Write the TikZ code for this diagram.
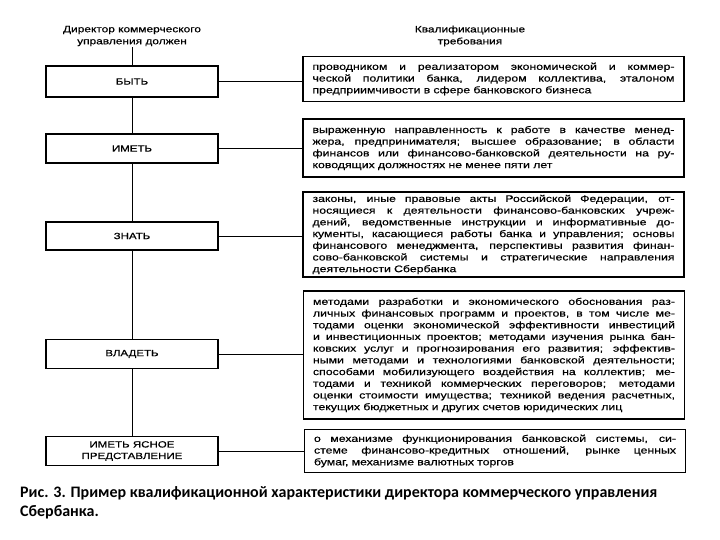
\documentclass[tikz,border=0pt]{standalone}
\usepackage{fontspec}
\setmainfont{Liberation Sans}
\newfontfamily\scanfont[FakeStretch=1.28,FakeBold=0.5]{Liberation Sans}
\newfontfamily\capfont{Carlito}
\newlength\rw
\setlength\rw{362pt}
\newcommand\jl[1]{{\spaceskip=0pt\xspaceskip=0pt\makebox[\rw][s]{#1}}\\}
\begin{document}
\begin{tikzpicture}[x=1pt,y=-1pt,
  lbox/.style={draw,line width=1.1pt,minimum width=172pt,inner sep=1pt,align=center,
    font=\scanfont\fontsize{9}{11.5}\selectfont},
  rbox/.style={draw,line width=1.5pt,minimum width=381pt,text width=\rw,inner xsep=9.5pt,inner ysep=2pt,align=left,
    font=\scanfont\fontsize{9.6}{11.7}\selectfont},
  hdr/.style={align=center,inner sep=1pt,font=\scanfont\fontsize{9.3}{12}\selectfont},
  conn/.style={line width=0.9pt}]
\useasboundingbox (0,0) rectangle (720,540);
\fill[white] (0,0) rectangle (720,540);
% headers
\node[hdr] (h1) at (132,36) {Директор коммерческого\\управления должен};
\node[hdr] (h2) at (470,36) {Квалификационные\\требования};
% left boxes
\node[lbox,minimum height=31pt] (b1) at (132,81.5) {БЫТЬ};
\node[lbox,minimum height=29pt] (b2) at (132,148.5) {ИМЕТЬ};
\node[lbox,minimum height=28pt] (b3) at (132,236) {ЗНАТЬ};
\node[lbox,minimum height=29pt] (b4) at (132,354) {ВЛАДЕТЬ};
\node[lbox,minimum height=29pt] (b5) at (132,451) {ИМЕТЬ ЯСНОЕ\\ПРЕДСТАВЛЕНИЕ};
% right boxes
\node[rbox,minimum height=45pt] (r1) at (493.5,79) {%
\jl{проводником и реализатором экономической и коммер-}
\jl{ческой политики банка, лидером коллектива, эталоном}
предприимчивости в сфере банковского бизнеса};
\node[rbox,minimum height=58pt] (r2) at (493.5,148) {%
\jl{выраженную направленность к работе в качестве менед-}
\jl{жера, предпринимателя; высшее образование; в области}
\jl{финансов или финансово-банковской деятельности на ру-}
ководящих должностях не менее пяти лет};
\node[rbox,minimum height=85pt] (r3) at (493.5,234.5) {%
\jl{законы, иные правовые акты Российской Федерации, от-}
\jl{носящиеся к деятельности финансово-банковских учреж-}
\jl{дений, ведомственные инструкции и информативные до-}
\jl{кументы, касающиеся работы банка и управления; основы}
\jl{финансового менеджмента, перспективы развития финан-}
\jl{сово-банковской системы и стратегические направления}
деятельности Сбербанка};
\node[rbox,minimum height=128pt] (r4) at (494,355) {%
\jl{методами разработки и экономического обоснования раз-}
\jl{личных финансовых программ и проектов, в том числе ме-}
\jl{тодами оценки экономической эффективности инвестиций}
\jl{и инвестиционных проектов; методами изучения рынка бан-}
\jl{ковских услуг и прогнозирования его развития; эффектив-}
\jl{ными методами и технологиями банковской деятельности;}
\jl{способами мобилизующего воздействия на коллектив; ме-}
\jl{тодами и техникой коммерческих переговоров; методами}
\jl{оценки стоимости имущества; техникой ведения расчетных,}
текущих бюджетных и других счетов юридических лиц};
\node[rbox,minimum height=43pt] (r5) at (495,451) {%
\jl{о механизме функционирования банковской системы, си-}
\jl{стеме финансово-кредитных отношений, рынке ценных}
бумаг, механизме валютных торгов};
% vertical chain
\draw[conn] (h1.south) -- (b1.north);
\draw[conn] (b1) -- (b2);
\draw[conn] (b2) -- (b3);
\draw[conn] (b3) -- (b4);
\draw[conn] (b4) -- (b5);
% horizontal connectors
\draw[conn] (b1.east) -- (b1.east -| r1.west);
\draw[conn] (b2.east) -- (b2.east -| r2.west);
\draw[conn] (b3.east) -- (b3.east -| r3.west);
\draw[conn] (b4.east) -- (b4.east -| r4.west);
\draw[conn] (b5.east) -- (b5.east -| r5.west);
% caption
\node[anchor=north west,align=left,inner sep=0pt,font=\capfont\bfseries\fontsize{16}{19}\selectfont] (cap) at (20,486)
  {Рис. 3. Пример квалификационной характеристики директора коммерческого управления\\Сбербанка.};
\end{tikzpicture}
\end{document}
